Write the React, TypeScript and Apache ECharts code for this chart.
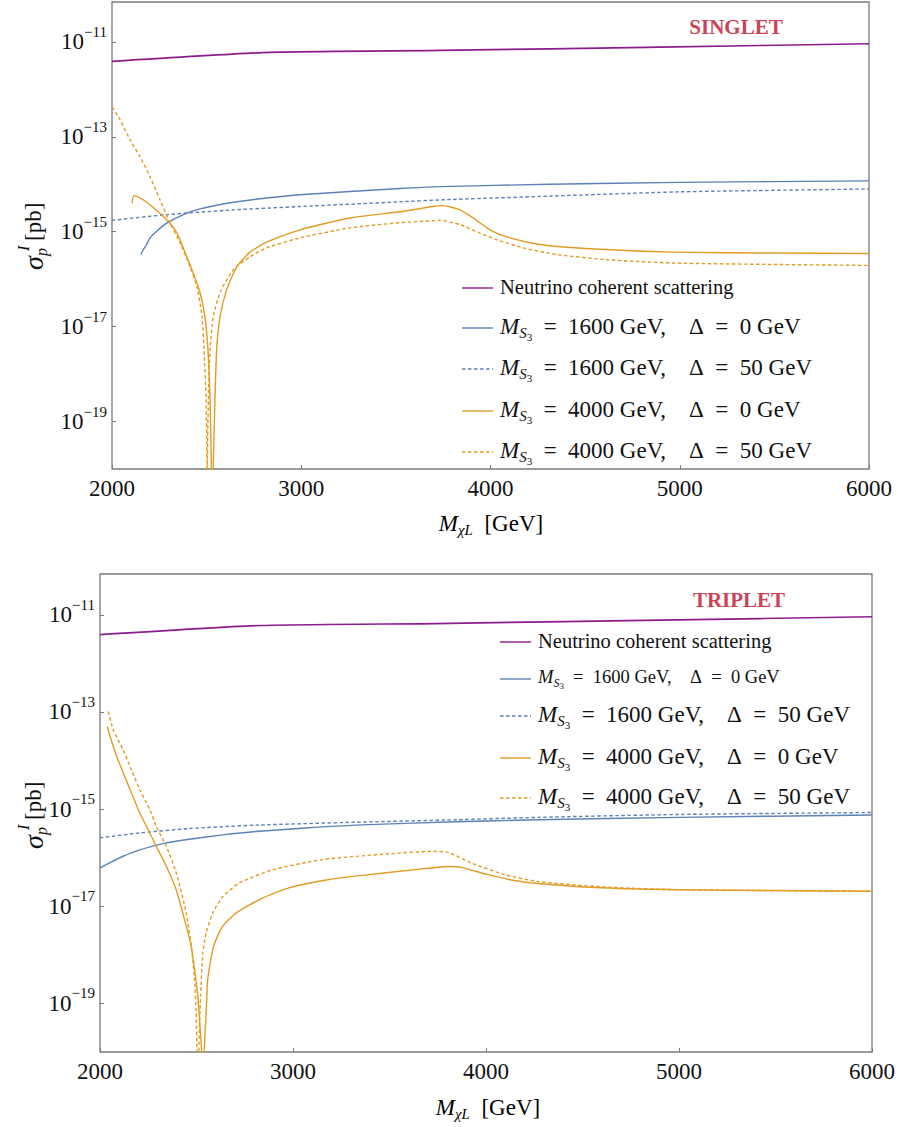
import React, { useEffect, useRef } from "react";
import * as echarts from "echarts";

// ---------- data (log10 of sigma in pb) ----------
const X_TICKS = [2000, 3000, 4000, 5000, 6000];
const Y_TICK_EXP = [-19, -17, -15, -13, -11];

// SINGLET panel
const sNeutrino = [[2000, -11.41], [2835, -11.22], [3733, -11.18], [4900, -11.11], [6000, -11.04]];
const sBlue0 = [[2153, -15.48], [2165, -15.38], [2183, -15.27], [2201, -15.13], [2236, -14.99], [2289, -14.82], [2377, -14.64], [2465, -14.52], [2641, -14.38], [2817, -14.29], [2993, -14.22], [3522, -14.09], [3733, -14.05], [4314, -14.0], [5000, -13.96], [6000, -13.93]];
const sBlue50 = [[2000, -14.76], [2289, -14.64], [2641, -14.54], [2993, -14.47], [3522, -14.37], [3733, -14.33], [4314, -14.25], [5000, -14.16], [6000, -14.1]];
const sOrange0 = [[2106, -14.4], [2116, -14.24], [2165, -14.33], [2218, -14.49], [2289, -14.75], [2342, -15.02], [2386, -15.44], [2428, -15.86], [2465, -16.28], [2491, -16.79], [2507, -17.48], [2518, -18.54], [2525, -19.95], [2528, -21.5], [2535, -19.95], [2544, -18.54], [2553, -17.48], [2571, -16.79], [2606, -16.22], [2659, -15.74], [2729, -15.43], [2817, -15.22], [2993, -14.96], [3258, -14.71], [3522, -14.58], [3696, -14.47], [3749, -14.45], [3839, -14.54], [3908, -14.71], [3997, -14.96], [4086, -15.11], [4261, -15.27], [4526, -15.36], [4965, -15.43], [5493, -15.45], [6000, -15.46]];
const sOrange50 = [[2000, -12.38], [2007, -12.41], [2042, -12.64], [2095, -13.06], [2148, -13.42], [2201, -13.84], [2254, -14.33], [2306, -14.81], [2359, -15.23], [2412, -15.74], [2449, -16.16], [2476, -16.79], [2486, -17.48], [2497, -18.54], [2502, -19.95], [2503, -21.5], [2504, -19.95], [2509, -18.54], [2518, -17.48], [2535, -16.79], [2571, -16.28], [2641, -15.8], [2729, -15.53], [2817, -15.34], [2993, -15.13], [3258, -14.92], [3522, -14.81], [3696, -14.77], [3733, -14.76], [3839, -14.85], [3945, -15.03], [4033, -15.17], [4172, -15.34], [4350, -15.48], [4614, -15.59], [4965, -15.66], [5493, -15.69], [6000, -15.71]];

// TRIPLET panel
const tNeutrino = [[2000, -11.41], [2835, -11.22], [3733, -11.18], [4900, -11.11], [6000, -11.04]];
const tBlue0 = [[2000, -16.21], [2052, -16.1], [2120, -15.97], [2206, -15.84], [2326, -15.71], [2464, -15.62], [2636, -15.53], [2808, -15.46], [3065, -15.39], [3323, -15.33], [3839, -15.26], [4268, -15.22], [5000, -15.17], [6000, -15.12]];
const tBlue50 = [[2000, -15.59], [2206, -15.49], [2464, -15.4], [2808, -15.33], [3323, -15.27], [3839, -15.22], [4268, -15.17], [5000, -15.11], [6000, -15.07]];
const tOrange0 = [[2038, -13.3], [2052, -13.5], [2086, -13.91], [2120, -14.25], [2163, -14.67], [2206, -15.08], [2249, -15.42], [2292, -15.77], [2344, -16.18], [2395, -16.66], [2447, -17.41], [2473, -17.83], [2490, -18.3], [2507, -18.85], [2519, -19.54], [2526, -19.95], [2529, -22], [2541, -19.88], [2550, -19.2], [2558, -18.51], [2588, -17.83], [2636, -17.41], [2705, -17.14], [2842, -16.83], [2979, -16.62], [3186, -16.45], [3323, -16.38], [3667, -16.23], [3804, -16.18], [3873, -16.2], [4010, -16.35], [4148, -16.47], [4268, -16.53], [4600, -16.62], [5000, -16.66], [6000, -16.69]];
const tOrange50 = [[2043, -12.99], [2069, -13.37], [2120, -13.78], [2163, -14.19], [2206, -14.6], [2258, -15.01], [2292, -15.36], [2344, -15.77], [2395, -16.31], [2447, -17.14], [2473, -17.83], [2490, -18.51], [2498, -19.19], [2502, -19.95], [2506, -22], [2512, -19.95], [2521, -18.85], [2533, -17.96], [2550, -17.55], [2584, -17.14], [2636, -16.8], [2722, -16.52], [2893, -16.25], [3151, -16.04], [3495, -15.92], [3718, -15.87], [3804, -15.89], [3924, -16.11], [4097, -16.35], [4268, -16.49], [4600, -16.6], [5000, -16.66], [6000, -16.69]];

// ---------- styling ----------
const SERIF = "Liberation Serif, DejaVu Serif, serif";
const PURPLE = "#8c1c8c";
const BLUE = "#5E81B5";
const ORANGE = "#E19C24";
const TITLE_RED = "#cc4457";
const FRAME = "#7a7a7a";
const DASH = [3.5, 2.5];

function subRich(f: number) {
  return {
    m: { fontFamily: SERIF, fontStyle: "italic", fontSize: f, lineHeight: f + 2, color: "#111" },
    s: { fontFamily: SERIF, fontStyle: "italic", fontSize: f * 0.65, lineHeight: f * 0.65, padding: [f * 0.6, 0, 0, 0], color: "#111" },
    ss: { fontFamily: SERIF, fontSize: f * 0.48, lineHeight: f * 0.48, padding: [f * 0.95, 0, 0, 0], color: "#111" },
    t: { fontFamily: SERIF, fontSize: f, lineHeight: f + 2, color: "#111" },
  };
}

function legendRow(x0: number, y: number, color: string, dashed: boolean, kind: "nu" | "ms", f: number, mass?: string, delta?: string) {
  const line = {
    type: "line",
    shape: { x1: x0, y1: y, x2: x0 + 31, y2: y },
    style: { stroke: color, lineWidth: 1.4, lineDash: dashed ? DASH : null },
  };
  const text =
    kind === "nu"
      ? { type: "text", x: x0 + 38, y: y - 1, style: { text: "Neutrino coherent scattering", fontFamily: SERIF, fontSize: f, fill: "#111", verticalAlign: "middle", align: "left" } }
      : {
          type: "text",
          x: x0 + 38,
          y: y - 2,
          style: {
            text: `{m|M}{s|S}{ss|3}{t|\u2002=\u2002${mass} GeV,\u2003Δ\u2002=\u2002${delta} GeV}`,
            rich: subRich(f),
            fill: "#111",
            verticalAlign: "middle",
            align: "left",
          },
        };
  return [line, text];
}

function yTitle(cx: number, cy: number) {
  return {
    type: "group",
    x: cx,
    y: cy,
    rotation: Math.PI / 2,
    children: [
      { type: "text", x: -34, y: 0, style: { text: "σ", fontFamily: SERIF, fontStyle: "italic", fontSize: 28, fill: "#111", verticalAlign: "middle", align: "left" } },
      { type: "text", x: -15, y: -10, style: { text: "I", fontFamily: SERIF, fontStyle: "italic", fontSize: 16, fill: "#111", verticalAlign: "middle", align: "left" } },
      { type: "text", x: -20, y: 8, style: { text: "p", fontFamily: SERIF, fontStyle: "italic", fontSize: 16, fill: "#111", verticalAlign: "middle", align: "left" } },
      { type: "text", x: -5, y: 0, style: { text: "[pb]", fontFamily: SERIF, fontSize: 23, fill: "#111", verticalAlign: "middle", align: "left" } },
    ],
  };
}

function xTitle(cx: number, cy: number) {
  return {
    type: "text",
    x: cx,
    y: cy,
    style: {
      text: "{m|M}{s|χL}{t|\u2002[GeV]}",
      rich: subRich(23),
      verticalAlign: "middle",
      align: "center",
    },
  };
}

function xAxis(gridIndex: number) {
  return {
    gridIndex,
    type: "value",
    min: 2000,
    max: 6000,
    interval: 1000,
    axisLine: { show: false },
    axisTick: { show: true, inside: true, length: 4, lineStyle: { color: FRAME, width: 1 }, customValues: X_TICKS },
    axisLabel: { fontFamily: SERIF, fontSize: 23, color: "#111", margin: 8, customValues: X_TICKS, formatter: (v: number) => String(v) },
    splitLine: { show: false },
  };
}

function yAxis(gridIndex: number) {
  return {
    gridIndex,
    type: "value",
    min: -20,
    max: -10.16,
    axisLine: { show: false },
    axisTick: { show: true, inside: true, length: 4, lineStyle: { color: FRAME, width: 1 }, customValues: Y_TICK_EXP },
    axisLabel: {
      customValues: Y_TICK_EXP,
      margin: 5,
      fontFamily: SERIF,
      formatter: (v: number) => `{b|10}{s|−${Math.abs(Math.round(v))}}`,
      rich: {
        b: { fontFamily: SERIF, fontSize: 23, lineHeight: 24, color: "#111" },
        s: { fontFamily: SERIF, fontSize: 15, lineHeight: 15, padding: [0, 0, 20, 0], color: "#111" },
      },
    },
    splitLine: { show: false },
  };
}

function line(name: string, data: number[][], idx: number, color: string, dashed: boolean, width: number) {
  return {
    name,
    type: "line",
    xAxisIndex: idx,
    yAxisIndex: idx,
    data,
    showSymbol: false,
    symbol: "none",
    smooth: 0.2,
    clip: true,
    lineStyle: { color, width, type: dashed ? DASH : "solid", join: "round" },
  };
}

export default function App() {
  const ref = useRef<HTMLDivElement>(null);
  useEffect(() => {
    if (!ref.current) return;
    const chart = echarts.init(ref.current, null, { renderer: "svg" });
    const option: any = {
      animation: false,
      backgroundColor: "#ffffff",
      textStyle: { fontFamily: SERIF },
      grid: [
        { left: 112, top: 2, width: 757, height: 467, show: true, borderColor: FRAME, borderWidth: 1.3, backgroundColor: "transparent" },
        { left: 100, top: 574, width: 776, height: 478, show: true, borderColor: FRAME, borderWidth: 1.3, backgroundColor: "transparent" },
      ],
      xAxis: [xAxis(0), xAxis(1)],
      yAxis: [yAxis(0), yAxis(1)],
      series: [
        line("Neutrino coherent scattering", sNeutrino, 0, PURPLE, false, 1.7),
        line("MS3=1600, Δ=0", sBlue0, 0, BLUE, false, 1.4),
        line("MS3=1600, Δ=50", sBlue50, 0, BLUE, true, 1.4),
        line("MS3=4000, Δ=0", sOrange0, 0, ORANGE, false, 1.4),
        line("MS3=4000, Δ=50", sOrange50, 0, ORANGE, true, 1.4),
        line("Neutrino coherent scattering (T)", tNeutrino, 1, PURPLE, false, 1.7),
        line("MS3=1600, Δ=0 (T)", tBlue0, 1, BLUE, false, 1.4),
        line("MS3=1600, Δ=50 (T)", tBlue50, 1, BLUE, true, 1.4),
        line("MS3=4000, Δ=0 (T)", tOrange0, 1, ORANGE, false, 1.4),
        line("MS3=4000, Δ=50 (T)", tOrange50, 1, ORANGE, true, 1.4),
      ],
      graphic: [
        { type: "text", x: 736, y: 27, style: { text: "SINGLET", fontFamily: SERIF, fontWeight: "bold", fontSize: 21, fill: TITLE_RED, align: "center", verticalAlign: "middle" } },
        { type: "text", x: 739, y: 600, style: { text: "TRIPLET", fontFamily: SERIF, fontWeight: "bold", fontSize: 21, fill: TITLE_RED, align: "center", verticalAlign: "middle" } },
        ...legendRow(462, 288, PURPLE, false, "nu", 20.5),
        ...legendRow(462, 328, BLUE, false, "ms", 23, "1600", "0"),
        ...legendRow(462, 369, BLUE, true, "ms", 23, "1600", "50"),
        ...legendRow(462, 411, ORANGE, false, "ms", 23, "4000", "0"),
        ...legendRow(462, 452, ORANGE, true, "ms", 23, "4000", "50"),
        ...legendRow(500, 642, PURPLE, false, "nu", 20.5),
        ...legendRow(500, 679, BLUE, false, "ms", 18.5, "1600", "0"),
        ...legendRow(500, 716, BLUE, true, "ms", 23, "1600", "50"),
        ...legendRow(500, 758, ORANGE, false, "ms", 23, "4000", "0"),
        ...legendRow(500, 798, ORANGE, true, "ms", 23, "4000", "50"),
        yTitle(33, 236),
        yTitle(33, 815),
        xTitle(491, 523),
        xTitle(488, 1107),
      ],
    };
    chart.setOption(option);
    return () => chart.dispose();
  }, []);
  return <div ref={ref} style={{ position: "absolute", left: 0, top: 0, width: 898, height: 1127 }} />;
}
